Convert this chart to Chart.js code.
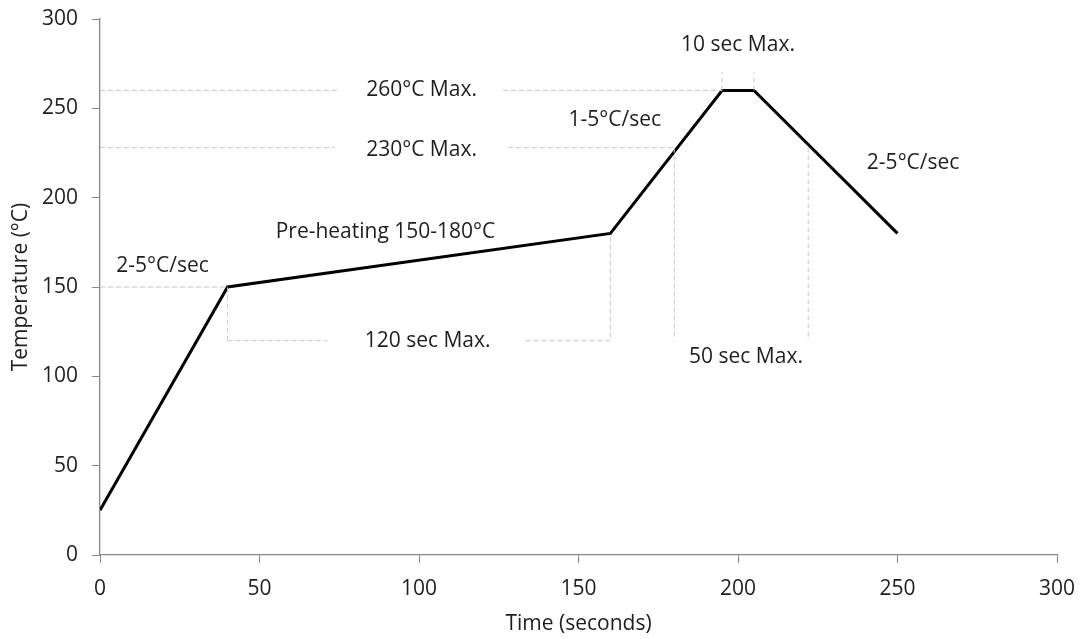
<!DOCTYPE html>
<html>
<head>
<meta charset="utf-8">
<script src="https://cdn.jsdelivr.net/npm/chart.js@4"></script>
<style>
  html, body { margin: 0; padding: 0; background: #fff; }
  #wrap { width: 1084px; height: 639px; }
</style>
</head>
<body>
<div id="wrap"><canvas id="reflowChart" width="1084" height="639"></canvas></div>
<script>
// reflow profile
const profileTime = [0, 40, 160, 195, 205, 250];
const profileTemp = [25, 150, 180, 260, 260, 180];

// dashed guide lines, null splits segments
const guideX = [0, 74.6, null, 126.3, 195, null,
                0, 73.7, null, 127.9, 180, null,
                0, 40, 40, null,
                40, 71.3, null, 133.4, 160, 160, null,
                180, 180, null,
                222, 222, null,
                195, 195, null,
                205, 205];
const guideY = [260, 260, null, 260, 260, null,
                228, 228, null, 228, 228, null,
                150, 150, 120, null,
                120, 120, null, 120, 120, 180, null,
                228, 120, null,
                228, 120, null,
                260, 270, null,
                260, 270];

const xTicks = [0, 50, 100, 150, 200, 250, 300];
const yTicks = [0, 50, 100, 150, 200, 250, 300];

const noteText = ['260°C Max.', '230°C Max.', '120 sec Max.', '50 sec Max.', '10 sec Max.',
                  '1-5°C/sec', '2-5°C/sec', '2-5°C/sec', 'Pre-heating 150-180°C'];
const noteX = [100.8, 100.8, 102.7, 202.5, 200, 161.4, 254.9, 19.6, 89.5];
const noteY = [260, 226.5, 120, 111, 285.5, 243.6, 219.6, 161.5, 181];

const FONT = '"Open Sans", "Noto Sans", sans-serif';
const TEXT = '#1e1e1e';
const AXIS = '#868686';
const FS = 21;

const guidePts = guideX.map((x, i) => (x === null ? { x: null, y: null } : { x: x, y: guideY[i] }));

const notesPlugin = {
    id: 'notes',
    afterDatasetsDraw(chart) {
        const ctx = chart.ctx;
        const xs = chart.scales.x, ys = chart.scales.y;
        ctx.save();
        ctx.font = FS + 'px ' + FONT;
        ctx.fillStyle = TEXT;
        ctx.textAlign = 'center';
        ctx.textBaseline = 'middle';
        noteText.forEach((t, i) => {
            ctx.fillText(t, xs.getPixelForValue(noteX[i]), ys.getPixelForValue(noteY[i]));
        });
        ctx.restore();
    }
};

new Chart(document.getElementById('reflowChart'), {
    type: 'scatter',
    data: {
        datasets: [
            {
                label: 'guides',
                data: guidePts,
                showLine: true,
                spanGaps: false,
                borderColor: '#c8c8c8',
                borderWidth: 1,
                borderDash: [5, 3],
                pointRadius: 0,
                fill: false
            },
            {
                label: 'profile',
                data: profileTime.map((t, i) => ({ x: t, y: profileTemp[i] })),
                showLine: true,
                borderColor: '#000',
                borderWidth: 3,
                pointRadius: 0,
                fill: false
            }
        ]
    },
    options: {
        responsive: false,
        animation: false,
        layout: { padding: { top: 19, right: 27, left: 0, bottom: 0 } },
        plugins: {
            legend: { display: false },
            tooltip: { enabled: false }
        },
        scales: {
            x: {
                type: 'linear',
                min: 0,
                max: 300,
                afterBuildTicks: s => { s.ticks = xTicks.map(v => ({ value: v })); },
                afterFit: s => { s.height = 84; s.paddingLeft = 0; s.paddingRight = 0; },
                border: { display: true, color: AXIS, width: 1.3 },
                grid: { drawOnChartArea: false, drawTicks: true, tickLength: 8, color: AXIS },
                ticks: { color: TEXT, font: { family: FONT, size: FS }, padding: 13, maxRotation: 0 },
                title: { display: true, text: 'Time (seconds)', color: TEXT, font: { family: FONT, size: FS }, padding: { top: 4, bottom: 2 } }
            },
            y: {
                type: 'linear',
                min: 0,
                max: 300,
                afterBuildTicks: s => { s.ticks = yTicks.map(v => ({ value: v })); },
                afterFit: s => { s.width = 100; s.paddingTop = 0; s.paddingBottom = 0; },
                border: { display: true, color: AXIS, width: 1.3 },
                grid: { drawOnChartArea: false, drawTicks: true, tickLength: 8, color: AXIS },
                ticks: { color: TEXT, font: { family: FONT, size: FS }, padding: 14 },
                title: { display: true, text: 'Temperature (°C)', color: TEXT, font: { family: FONT, size: FS }, padding: { top: 8, bottom: 4 } }
            }
        }
    },
    plugins: [notesPlugin]
});
</script>
</body>
</html>
